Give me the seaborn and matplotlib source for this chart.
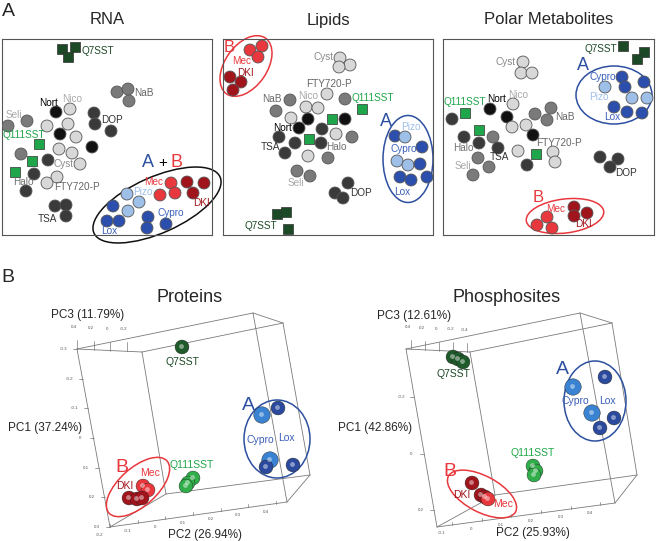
import matplotlib
matplotlib.use('Agg')
import matplotlib.pyplot as plt
from matplotlib.patches import Ellipse
import pandas as pd
import seaborn as sns

W, H = 658, 541

# ---------------- A: PCA scores (em px) ----------------
rna_x = [62, 75, 68, 117, 128, 129, 56, 70, 94, 95, 111, 8, 27, 47, 68, 60, 76, 92, 59, 72,
         21, 48, 80, 57, 47, 34, 26, 55, 66, 66, 39, 32, 15,
         127, 139, 113, 128, 107, 119, 148, 147, 166, 171, 187, 204, 160, 175, 193]
rna_y = [49, 47, 57, 92, 89, 101, 112, 109, 113, 124, 131, 126, 121, 126, 124, 134, 137, 147, 149, 153,
         154, 160, 164, 177, 183, 174, 191, 206, 205, 216, 144, 161, 172,
         194, 202, 206, 211, 221, 221, 217, 228, 224, 183, 182, 183, 195, 193, 193]
rna_kind = ['q7', 'q7', 'q7', 'm', 'm', 'm', 'k', 'l', 'd', 'd', 'd', 'm', 'm', 'l', 'l', 'k', 'l', 'k', 'l', 'l',
            'm', 'd', 'l', 'l', 'l', 'd', 'd', 'd', 'd', 'd', 'q1', 'q1', 'q1',
            'lb', 'lb', 'b', 'lb', 'b', 'b', 'b', 'b', 'b', 'r', 'dr', 'dr', 'r', 'r', 'dr']

lip_x = [250, 262, 258, 230, 241, 233, 340, 350, 339, 327, 345, 362, 332, 309,
         290, 306, 318, 276, 291, 308, 345, 299, 322, 279, 295, 321, 336, 352, 285, 308, 328,
         297, 310, 348, 335, 343, 277, 286, 288,
         395, 405, 422, 397, 408, 420, 400, 411, 427]
lip_y = [50, 46, 57, 77, 82, 90, 58, 65, 67, 94, 99, 109, 119, 139,
         100, 107, 108, 111, 118, 119, 119, 128, 129, 137, 143, 143, 134, 137, 153, 156, 158,
         171, 176, 183, 193, 198, 214, 212, 229,
         136, 137, 147, 161, 165, 164, 177, 180, 177]
lip_kind = ['r', 'r', 'r', 'dr', 'dr', 'dr', 'l', 'l', 'l', 'l', 'm', 'q1', 'q1', 'q1',
            'm', 'l', 'l', 'm', 'l', 'k', 'k', 'k', 'd', 'd', 'd', 'd', 'l', 'm', 'd', 'l', 'm',
            'm', 'm', 'd', 'd', 'd', 'q7', 'q7', 'q7',
            'b', 'lb', 'b', 'lb', 'lb', 'b', 'b', 'b', 'b']

pol_x = [623, 644, 637, 523, 521, 532, 622, 605, 625, 644, 632, 647, 614, 627, 642,
         490, 513, 452, 507, 535, 551, 547, 512, 526, 533, 464, 493, 479, 498, 518, 553,
         478, 489, 555, 527, 473, 465, 479, 536, 600, 618, 610,
         547, 537, 552, 574, 574, 587]
pol_y = [46, 52, 59, 62, 73, 73, 77, 87, 87, 82, 98, 98, 107, 112, 113,
         109, 104, 119, 117, 114, 108, 120, 127, 125, 135, 137, 137, 143, 148, 151, 152,
         158, 167, 162, 165, 175, 113, 130, 154, 157, 159, 167,
         217, 225, 228, 207, 216, 213]
pol_kind = ['q7', 'q7', 'q7', 'l', 'l', 'l', 'b', 'lb', 'b', 'b', 'lb', 'lb', 'b', 'b', 'b',
            'k', 'l', 'd', 'k', 'm', 'm', 'm', 'l', 'l', 'k', 'd', 'm', 'd', 'd', 'l', 'l',
            'm', 'm', 'l', 'd', 'm', 'q1', 'q1', 'q1', 'd', 'd', 'd',
            'r', 'r', 'r', 'dr', 'dr', 'dr']

rna_labels = [('Q7SST', 98, 51), ('NaB', 144, 93), ('Nort', 49, 103), ('Nico', 72, 99),
              ('Seli', 14, 115), ('DOP', 112, 120), ('Q111SST', 24, 135), ('Cyst', 64, 164),
              ('Halo', 23, 182), ('FTY720-P', 77, 187), ('Mec', 154, 182), ('Pizo', 143, 192),
              ('DKI', 202, 203), ('TSA', 47, 219), ('Cypro', 171, 213), ('Lox', 109, 231)]
lip_labels = [('Mec', 242, 61), ('DKI', 246, 73), ('Cyst', 324, 57), ('FTY720-P', 329, 84),
              ('Q111SST', 373, 98), ('NaB', 272, 99), ('Nico', 308, 96), ('Nort', 283, 128),
              ('TSA', 270, 147), ('Halo', 336, 147), ('Seli', 296, 183), ('DOP', 361, 193),
              ('Pizo', 411, 127), ('Cypro', 404, 149), ('Lox', 402, 192), ('Q7SST', 261, 226)]
pol_labels = [('Q7SST', 601, 49), ('Cyst', 506, 62), ('Cypro', 603, 77), ('Pizo', 599, 97),
              ('Lox', 612, 117), ('Q111SST', 465, 102), ('Nort', 497, 99), ('Nico', 518, 95),
              ('NaB', 565, 117), ('FTY720-P', 559, 143), ('Halo', 463, 148), ('TSA', 499, 157),
              ('Seli', 463, 166), ('DOP', 626, 173), ('Mec', 556, 209), ('DKI', 584, 224)]

# ---------------- B: PCA 3D (projeção, em px) ----------------
prot_x = [182, 262, 278, 270, 266, 293, 193, 188, 186, 143, 148, 129, 137, 142]
prot_y = [347, 415, 408, 460, 467, 465, 478, 483, 486, 486, 490, 498, 499, 498]
prot_kind = ['g7', 'mb', 'db', 'mb', 'db', 'db', 'g1', 'g1', 'g1', 'r', 'r', 'dr', 'dr', 'dr']
phos_x = [453, 458, 463, 573, 605, 592, 614, 600, 533, 536, 534, 472, 481, 485, 488]
phos_y = [357, 359, 362, 387, 377, 413, 418, 428, 466, 471, 475, 483, 495, 497, 499]
phos_kind = ['g7', 'g7', 'g7', 'mb', 'db', 'mb', 'db', 'db', 'g1', 'g1', 'g1', 'dr', 'dr', 'dr', 'r']

prot_labels = [('Q7SST', 182, 362), ('Cypro', 260, 440), ('Lox', 286, 438), ('Q111SST', 192, 465),
               ('Mec', 150, 473), ('DKI', 125, 486)]
phos_labels = [('Q7SST', 453, 374), ('Cypro', 575, 401), ('Lox', 607, 401), ('Q111SST', 533, 453),
               ('DKI', 462, 495), ('Mec', 503, 504)]

cores = {'k': '#111111', 'd': '#3a3a3a', 'm': '#7a7a7a', 'l': '#d8d8d8',
         'q7': '#1d4a26', 'q1': '#1fa64a', 'b': '#2c4fae', 'lb': '#9dbfe8',
         'r': '#e8383d', 'dr': '#a0151c',
         'g7': '#1f5a2a', 'g1': '#2fae4a', 'mb': '#3a82d2', 'db': '#2b4a9e'}
cor_texto = {'Nort': '#000000', 'Nico': '#a8a8a8', 'Seli': '#a8a8a8', 'NaB': '#666666',
             'DOP': '#333333', 'Cyst': '#8a8a8a', 'Halo': '#707070', 'FTY720-P': '#666666',
             'TSA': '#333333', 'Q111SST': '#1fa64a', 'Q7SST': '#1d4a26', 'Mec': '#e8383d',
             'DKI': '#a0151c', 'Pizo': '#9dbfe8', 'Cypro': '#3b5fb8', 'Lox': '#3b5fb8'}
AZUL, VERM = '#2c4fa0', '#e8383d'

sns.set_style('white')
plt.rcParams['font.family'] = ['Liberation Sans', 'DejaVu Sans']

fig = plt.figure(figsize=(W / 100, H / 100), dpi=100)


def eixo_px(x0, y0, x1, y1):
    ax = fig.add_axes([x0 / W, 1 - y1 / H, (x1 - x0) / W, (y1 - y0) / H])
    ax.set_xlim(x0, x1)
    ax.set_ylim(y1, y0)
    ax.set_xticks([])
    ax.set_yticks([])
    return ax


def elipse(ax, cx, cy, w, h, ang, cor):
    # ang = inclinação visual (anti-horário); eixo y invertido
    ax.add_patch(Ellipse((cx, cy), w, h, angle=-ang, fill=False, edgecolor=cor,
                         lw=1.1, clip_on=False, zorder=1))


def pontos_2d(ax, xs, ys, kinds):
    df = pd.DataFrame({'x': xs, 'y': ys, 'kind': kinds})
    circ = df[~df['kind'].isin(['q7', 'q1'])]
    quad = df[df['kind'].isin(['q7', 'q1'])]
    sns.scatterplot(data=circ, x='x', y='y', hue='kind', palette=cores, s=74,
                    edgecolor='#555555', linewidth=0.6, legend=False, ax=ax, zorder=3)
    sns.scatterplot(data=quad, x='x', y='y', hue='kind', palette=cores, marker='s', s=58,
                    edgecolor='#333333', linewidth=0.5, legend=False, ax=ax, zorder=3)
    ax.set_xlabel('')
    ax.set_ylabel('')


def rotulos(ax, labels, fs=7.2):
    for nome, x, y in labels:
        ax.text(x, y, nome, color=cor_texto[nome], fontsize=fs, ha='center', va='center',
                zorder=5, clip_on=False)


# --- painel A ---
caixas = {'RNA': (2, 39, 212, 235), 'Lipids': (223, 39, 433, 235),
          'Polar Metabolites': (443, 39, 654, 235)}
dados = {'RNA': (rna_x, rna_y, rna_kind, rna_labels),
         'Lipids': (lip_x, lip_y, lip_kind, lip_labels),
         'Polar Metabolites': (pol_x, pol_y, pol_kind, pol_labels)}
eixos = {}
for nome, (x0, y0, x1, y1) in caixas.items():
    ax = eixo_px(x0, y0, x1, y1)
    for sp in ax.spines.values():
        sp.set_visible(True)
        sp.set_color('#555555')
        sp.set_linewidth(0.8)
    xs, ys, ks, labs = dados[nome]
    pontos_2d(ax, xs, ys, ks)
    ax.set_xlim(x0, x1)
    ax.set_ylim(y1, y0)
    rotulos(ax, labs)
    ax.text((x0 + x1) / 2, 20, nome, fontsize=12, ha='center', va='center', clip_on=False)
    eixos[nome] = ax

ax = eixos['RNA']
elipse(ax, 157, 205, 138, 56, 24, '#111111')
ax.text(148, 163, 'A', color=AZUL, fontsize=13, ha='center', va='center')
ax.text(163, 163, '+', color='black', fontsize=11, ha='center', va='center')
ax.text(177, 163, 'B', color=VERM, fontsize=13, ha='center', va='center')

ax = eixos['Lipids']
elipse(ax, 246, 66, 68, 42, 55, VERM)
elipse(ax, 408, 159, 50, 87, 0, AZUL)
ax.text(229, 48, 'B', color=VERM, fontsize=12, ha='center', va='center')
ax.text(386, 122, 'A', color=AZUL, fontsize=13, ha='center', va='center')

ax = eixos['Polar Metabolites']
elipse(ax, 614, 95, 76, 58, 0, AZUL)
elipse(ax, 565, 216, 78, 34, 7, VERM)
ax.text(583, 66, 'A', color=AZUL, fontsize=13, ha='center', va='center')
ax.text(538, 198, 'B', color=VERM, fontsize=12, ha='center', va='center')

# --- painel B: caixa 3D projetada ---
cantos = {
    'Proteins': [(77, 349), (142, 352), (253, 313), (283, 323),
                 (110, 527), (166, 494), (287, 502), (310, 475)],
    'Phosphosites': [(406, 349), (470, 352), (580, 313), (612, 323),
                     (437, 527), (495, 495), (615, 503), (637, 475)],
}
arestas = [(0, 1), (0, 2), (2, 3), (1, 3), (0, 4), (1, 5), (2, 6), (3, 7),
           (4, 5), (4, 6), (5, 7), (6, 7)]
# (valores dos ticks, valor no canto inicial, valor no canto final)
ticks_pc1 = {'Proteins': ([-0.3, -0.2, -0.1, 0, 0.1, 0.2, 0.3], -0.3, 0.3),
             'Phosphosites': ([-0.2, 0, 0.2], -0.37, 0.26)}
ticks_pc3 = {'Proteins': ([0.4, 0.2, 0, -0.2], 0.4, -0.38),
             'Phosphosites': ([0.4, 0.2, 0, -0.2, -0.4], 0.47, -0.44)}
ticks_pc2 = {'Proteins': ([-0.2, -0.1, 0, 0.1, 0.2, 0.3, 0.4], -0.2, 0.44),
             'Phosphosites': ([-0.1, 0, 0.1, 0.2, 0.3, 0.4], -0.15, 0.45)}
pc_txt = {'Proteins': ('PC1 (37.24%)', 'PC2 (26.94%)', 'PC3 (11.79%)'),
          'Phosphosites': ('PC1 (42.86%)', 'PC2 (25.93%)', 'PC3 (12.61%)')}
pc_pos = {'Proteins': ((45, 428), (205, 535), (88, 315)),
          'Phosphosites': ((375, 428), (533, 533), (414, 316))}
esferas = {'Proteins': (prot_x, prot_y, prot_kind, prot_labels),
           'Phosphosites': (phos_x, phos_y, phos_kind, phos_labels)}
paineis_b = {'Proteins': (0, 290, 329, 541), 'Phosphosites': (330, 290, 658, 541)}
titulos_b = {'Proteins': (190, 297), 'Phosphosites': (507, 297)}


def eixo_ticks(ax, p0, p1, vals, v0, v1, dtick, dlab):
    for v in vals:
        t = (v - v0) / (v1 - v0)
        x = p0[0] + t * (p1[0] - p0[0])
        y = p0[1] + t * (p1[1] - p0[1])
        ax.plot([x, x + dtick[0]], [y, y + dtick[1]], color='#777777', lw=0.5)
        ax.text(x + dlab[0], y + dlab[1], f'{v:g}', fontsize=3.2, color='#555555',
                ha='center', va='center')


for nome, (x0, y0, x1, y1) in paineis_b.items():
    ax = eixo_px(x0, y0, x1, y1)
    ax.axis('off')
    c = cantos[nome]
    for i, j in arestas:
        ax.plot([c[i][0], c[j][0]], [c[i][1], c[j][1]], color='#7a7a7a', lw=0.6, zorder=1)
    eixo_ticks(ax, c[0], c[4], *ticks_pc1[nome], (-4, 0), (-13, 0))
    eixo_ticks(ax, c[0], c[1], *ticks_pc3[nome], (0, -9), (-3, -22))
    eixo_ticks(ax, c[4], c[6], *ticks_pc2[nome], (0, -3), (-10, 8))
    for txt, (tx, ty) in zip(pc_txt[nome], pc_pos[nome]):
        ax.text(tx, ty, txt, fontsize=8.5, ha='center', va='center')
    ax.text(*titulos_b[nome], nome, fontsize=13, ha='center', va='center')

    xs, ys, ks, labs = esferas[nome]
    df = pd.DataFrame({'x': xs, 'y': ys, 'kind': ks})
    df['tam'] = [140 if k == 'mb' else 100 for k in ks]
    sns.scatterplot(data=df, x='x', y='y', hue='kind', palette=cores, size='tam',
                    sizes=(100, 140), edgecolor='#222222', linewidth=0.3, legend=False,
                    ax=ax, zorder=3)
    hl = df.copy()
    hl['x'] = hl['x'] - 1.5
    hl['y'] = hl['y'] - 1.5
    sns.scatterplot(data=hl, x='x', y='y', color='white', s=12, alpha=0.45,
                    linewidth=0, legend=False, ax=ax, zorder=4)
    ax.set_xlim(x0, x1)
    ax.set_ylim(y1, y0)
    rotulos(ax, labs, fs=7.5)

ax_p = fig.axes[-2]
elipse(ax_p, 277, 439, 66, 78, 0, AZUL)
elipse(ax_p, 138, 487, 78, 38, 42, VERM)
ax_p.text(248, 405, 'A', color=AZUL, fontsize=14, ha='center', va='center')
ax_p.text(122, 468, 'B', color=VERM, fontsize=14, ha='center', va='center')
ax_f = fig.axes[-1]
elipse(ax_f, 595, 401, 62, 80, 0, AZUL)
elipse(ax_f, 482, 494, 76, 36, -28, VERM)
ax_f.text(562, 370, 'A', color=AZUL, fontsize=14, ha='center', va='center')
ax_f.text(450, 472, 'B', color=VERM, fontsize=14, ha='center', va='center')

fig.text(8 / W, 1 - 11 / H, 'A', fontsize=14, ha='center', va='center')
fig.text(8 / W, 1 - 277 / H, 'B', fontsize=14, ha='center', va='center')

fig.savefig('out.png', dpi=100)
